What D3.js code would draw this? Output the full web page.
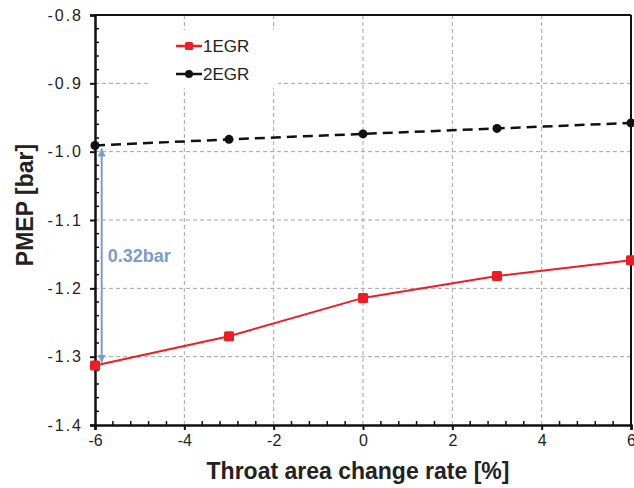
<!DOCTYPE html>
<html>
<head>
<meta charset="utf-8">
<script src="https://cdn.jsdelivr.net/npm/d3@7"></script>
<style>
  body { margin: 0; background: #fff; }
  text { font-family: "Liberation Sans", Arial, sans-serif; }
</style>
</head>
<body>
<div id="chart"></div>
<script>
// 資料
const xValues = [-6, -3, 0, 3, 6];
const egr1 = [-1.313, -1.270, -1.214, -1.182, -1.159];
const egr2 = [-0.991, -0.982, -0.974, -0.966, -0.958];
const xTicks = [-6, -4, -2, 0, 2, 4, 6];
const yTicks = [-1.4, -1.3, -1.2, -1.1, -1.0, -0.9, -0.8];
const seriesNames = ['1EGR', '2EGR'];
const gapLabel = '0.32bar';

document.addEventListener("DOMContentLoaded", function() {
    const width = 634, height = 488;
    const margin = { top: 15, right: 3, bottom: 63, left: 95 };
    const w = width - margin.left - margin.right;
    const h = height - margin.top - margin.bottom;

    const svg = d3.select('#chart').append('svg')
        .attr('width', width)
        .attr('height', height);

    const g = svg.append('g')
        .attr('transform', `translate(${margin.left},${margin.top})`);

    const x = d3.scaleLinear().domain([-6, 6]).range([0, w]);
    const y = d3.scaleLinear().domain([-1.4, -0.8]).range([h, 0]);

    // 格線
    const grid = g.append('g').classed('grid', true);
    grid.selectAll('line.gx')
        .data(xTicks.slice(1, -1))
        .enter().append('line')
        .attr('x1', d => x(d)).attr('x2', d => x(d))
        .attr('y1', 0).attr('y2', h)
        .attr('stroke', '#a3a3a3').attr('stroke-width', 1)
        .attr('stroke-dasharray', '4,3');
    grid.selectAll('line.gy')
        .data(yTicks.slice(1, -1))
        .enter().append('line')
        .attr('x1', 0).attr('x2', w)
        .attr('y1', d => y(d)).attr('y2', d => y(d))
        .attr('stroke', '#a3a3a3').attr('stroke-width', 1)
        .attr('stroke-dasharray', '4,3');

    // 圖例背景 (蓋住格線)
    g.append('rect')
        .attr('x', 53).attr('y', 15)
        .attr('width', 130).attr('height', 58)
        .attr('fill', '#fff');

    // 邊框
    g.append('line').attr('x1', 0).attr('x2', w).attr('y1', 0).attr('y2', 0)
        .attr('stroke', '#111').attr('stroke-width', 2);
    g.append('line').attr('x1', w).attr('x2', w).attr('y1', 0).attr('y2', h)
        .attr('stroke', '#111').attr('stroke-width', 2);

    // 軸
    const xAxis = d3.axisBottom(x).tickValues(xTicks).tickSize(5)
        .tickFormat(d3.format('d'));
    const yAxis = d3.axisLeft(y).tickValues(yTicks).tickSize(5)
        .tickFormat(d => d3.format('.1f')(d).replace('−', '-'));

    const gx = g.append('g').attr('transform', `translate(0,${h})`).call(xAxis);
    const gy = g.append('g').call(yAxis);

    [gx, gy].forEach(a => {
        a.select('.domain').attr('stroke', '#111').attr('stroke-width', 2.5);
        a.selectAll('.tick line').attr('stroke', '#111').attr('stroke-width', 2);
        a.selectAll('.tick text')
            .attr('fill', '#222')
            .style('font-size', '16px')
            .style('font-family', '"Liberation Sans", Arial, sans-serif');
    });
    gx.selectAll('.tick text').attr('y', 10).text(d => String(d).replace('−', '-'));
    gy.selectAll('.tick text').attr('x', -12).attr('letter-spacing', '2px');

    // 小刻度 (向內)
    const xMinor = d3.range(-6, 6.001, 0.4).filter(v => Math.abs(v / 2 - Math.round(v / 2)) > 0.01);
    g.append('g').selectAll('line')
        .data(xMinor).enter().append('line')
        .attr('x1', d => x(d)).attr('x2', d => x(d))
        .attr('y1', h).attr('y2', h - 4)
        .attr('stroke', '#111').attr('stroke-width', 1.5);
    const yMinor = d3.range(-1.4, -0.799, 0.02).filter(v => Math.abs(v * 10 - Math.round(v * 10)) > 0.01);
    g.append('g').selectAll('line')
        .data(yMinor).enter().append('line')
        .attr('x1', 0).attr('x2', 4)
        .attr('y1', d => y(d)).attr('y2', d => y(d))
        .attr('stroke', '#111').attr('stroke-width', 1.5);

    // 軸標題
    svg.append('text')
        .attr('x', margin.left + w / 2 - 5)
        .attr('y', 479)
        .attr('text-anchor', 'middle')
        .attr('font-size', '23px')
        .attr('font-weight', 'bold')
        .attr('fill', '#222')
        .text('Throat area change rate [%]');
    svg.append('text')
        .attr('transform', 'translate(33,205) rotate(-90)')
        .attr('text-anchor', 'middle')
        .attr('font-size', '23px')
        .attr('font-weight', 'bold')
        .attr('fill', '#222')
        .text('PMEP [bar]');

    // 資料線
    const line = d3.line()
        .x((d, i) => x(xValues[i]))
        .y(d => y(d));

    g.append('path')
        .attr('d', line(egr2))
        .attr('fill', 'none')
        .attr('stroke', '#111')
        .attr('stroke-width', 2.5)
        .attr('stroke-dasharray', '10,6');
    g.selectAll('circle.p2')
        .data(egr2).enter().append('circle')
        .attr('cx', (d, i) => x(xValues[i]))
        .attr('cy', d => y(d))
        .attr('r', 4.5)
        .attr('fill', '#111');

    g.append('path')
        .attr('d', line(egr1))
        .attr('fill', 'none')
        .attr('stroke', '#ee1c25')
        .attr('stroke-width', 2);
    g.selectAll('rect.p1')
        .data(egr1).enter().append('rect')
        .attr('x', (d, i) => x(xValues[i]) - 5)
        .attr('y', d => y(d) - 5)
        .attr('width', 10).attr('height', 10)
        .attr('rx', 1.5)
        .attr('fill', '#ee1c25');

    // 差值箭頭
    const blue = '#7b9ccb';
    const defs = svg.append('defs');
    ['start', 'end'].forEach(k => {
        defs.append('marker')
            .attr('id', 'arr-' + k)
            .attr('viewBox', '0 0 10 10')
            .attr('refX', k === 'end' ? 10 : 0).attr('refY', 5)
            .attr('markerWidth', 4).attr('markerHeight', 5)
            .attr('orient', 'auto')
            .append('path')
            .attr('d', k === 'end' ? 'M0,0L10,5L0,10Z' : 'M10,0L0,5L10,10Z')
            .attr('fill', blue);
    });
    const ax = x(-5.85);
    g.append('line')
        .attr('x1', ax).attr('x2', ax)
        .attr('y1', y(egr2[0]) + 3).attr('y2', y(egr1[0]) - 3)
        .attr('stroke', blue).attr('stroke-width', 2)
        .attr('marker-start', 'url(#arr-start)')
        .attr('marker-end', 'url(#arr-end)');
    g.append('text')
        .attr('x', ax + 6)
        .attr('y', y((egr1[0] + egr2[0]) / 2) + 6)
        .attr('font-size', '18px')
        .attr('font-weight', 'bold')
        .attr('fill', blue)
        .text(gapLabel);

    // 圖例
    const legend = g.append('g').attr('transform', 'translate(81,31)');
    seriesNames.forEach((name, i) => {
        const row = legend.append('g').attr('transform', `translate(0,${i * 28})`);
        row.append('line')
            .attr('x1', 0).attr('x2', 26).attr('y1', 0).attr('y2', 0)
            .attr('stroke', i === 0 ? '#ee1c25' : '#111')
            .attr('stroke-width', 2.5);
        if (i === 0) {
            row.append('rect').attr('x', 9).attr('y', -4).attr('width', 8).attr('height', 8)
                .attr('rx', 1.5).attr('fill', '#ee1c25');
        } else {
            row.append('circle').attr('cx', 13).attr('cy', 0).attr('r', 4).attr('fill', '#111');
        }
        row.append('text')
            .attr('x', 27).attr('y', 6)
            .attr('font-size', '17px')
            .attr('fill', '#222')
            .text(name);
    });
});
</script>
</body>
</html>
